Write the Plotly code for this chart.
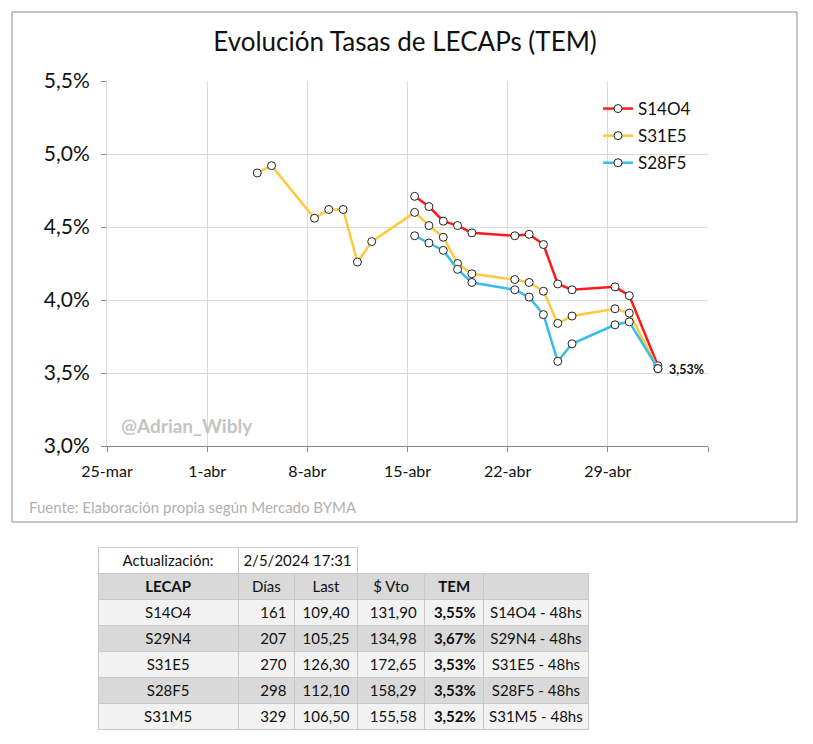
import plotly.graph_objects as go
import pandas as pd

# page body has an 8px margin: the figure is placed at (8, 8)
OFF = 8
W, H = 813 - OFF, 744 - OFF

# ---------------- data ----------------
dates_long = ["2024-04-04", "2024-04-05", "2024-04-08", "2024-04-09", "2024-04-10",
              "2024-04-11", "2024-04-12", "2024-04-15", "2024-04-16", "2024-04-17",
              "2024-04-18", "2024-04-19", "2024-04-22", "2024-04-23", "2024-04-24",
              "2024-04-25", "2024-04-26", "2024-04-29", "2024-04-30", "2024-05-02"]
dates_short = ["2024-04-15", "2024-04-16", "2024-04-17", "2024-04-18", "2024-04-19",
               "2024-04-22", "2024-04-23", "2024-04-24", "2024-04-25", "2024-04-26",
               "2024-04-29", "2024-04-30", "2024-05-02"]

s14o4 = [4.71, 4.64, 4.54, 4.51, 4.46, 4.44, 4.45, 4.38, 4.11, 4.07, 4.09, 4.03, 3.55]
s31e5 = [4.87, 4.92, 4.56, 4.62, 4.62, 4.26, 4.40, 4.60, 4.51, 4.43, 4.25, 4.18,
         4.14, 4.12, 4.06, 3.84, 3.89, 3.94, 3.91, 3.53]
s28f5 = [4.44, 4.39, 4.34, 4.21, 4.12, 4.07, 4.02, 3.90, 3.58, 3.70, 3.83, 3.85, 3.53]

x_tick_dates = ["2024-03-25", "2024-04-01", "2024-04-08", "2024-04-15",
                "2024-04-22", "2024-04-29", "2024-05-06"]
x_tick_labels = ["25-mar", "1-abr", "8-abr", "15-abr", "22-abr", "29-abr", ""]
y_ticks = [3.0, 3.5, 4.0, 4.5, 5.0, 5.5]
y_tick_labels = ["3,0%", "3,5%", "4,0%", "4,5%", "5,0%", "5,5%"]

# table data
upd_label = "Actualización:"
upd_value = "2/5/2024 17:31"
tbl_header = ["LECAP", "Días", "Last", "$ Vto", "TEM", ""]
tbl_lecap = ["S14O4", "S29N4", "S31E5", "S28F5", "S31M5"]
tbl_dias = [161, 207, 270, 298, 329]
tbl_last = [109.40, 105.25, 126.30, 112.10, 106.50]
tbl_vto = [131.90, 134.98, 172.65, 158.29, 155.58]
tbl_tem = [3.55, 3.67, 3.53, 3.53, 3.52]
tbl_note = [f"{c} - 48hs" for c in tbl_lecap]

FONT = "Lato"
NB = "\u00a0"


def px_x(p):
    return (p - OFF) / W


def px_y(p):
    return 1 - (p - OFF) / H


def dc(v):
    return f"{v:.2f}".replace(".", ",")


def nb(s):
    return s.replace(" ", NB)


half_day = pd.Timedelta(hours=12)
xl = pd.to_datetime(dates_long) + half_day
xs = pd.to_datetime(dates_short) + half_day

fig = go.Figure()

marker = dict(symbol="circle", size=8, color="white", line=dict(color="#222222", width=1))

fig.add_trace(go.Scatter(x=xs, y=s14o4, name="S14O4", mode="lines+markers",
                         line=dict(color="#ff1a1a", width=2.5), marker=marker,
                         legendgroup="a"))
fig.add_trace(go.Scatter(x=xl, y=s31e5, name="S31E5", mode="lines+markers",
                         line=dict(color="#ffc93c", width=2.5), marker=marker,
                         legendgroup="b"))
fig.add_trace(go.Scatter(x=xs, y=s28f5, name="S28F5", mode="lines+markers",
                         line=dict(color="#35bdec", width=2.5), marker=marker,
                         legendgroup="c"))

# end label
fig.add_annotation(x=xl[-1], y=s31e5[-1], xref="x", yref="y",
                   text="<b>" + dc(s31e5[-1]) + "%</b>",
                   showarrow=False, xanchor="left", xshift=9, yshift=-1,
                   font=dict(family=FONT, size=12.5, color="#111111"))

# -------- tables --------
TXT = "#111111"
row_fill = ["#f2f2f2", "#d9d9d9", "#f2f2f2", "#d9d9d9", "#f2f2f2"]
fig.add_trace(go.Table(
    domain=dict(x=[px_x(98), px_x(357)], y=[px_y(574), px_y(547)]),
    columnwidth=[140, 119],
    header=dict(values=[upd_label, nb(upd_value)], fill_color="white",
                line_color="#c8c8c8", align="center", height=26,
                font=dict(family=FONT, size=15, color=TXT)),
    cells=dict(values=[[""], [""]], height=1, fill_color="white", line_color="white"),
))
fig.add_trace(go.Table(
    domain=dict(x=[px_x(98), px_x(588)], y=[px_y(736), px_y(573)]),
    columnwidth=[140, 56, 63, 67, 59, 104],
    header=dict(values=[nb(h) for h in tbl_header],
                fill_color="#d9d9d9", line_color="#c8c8c8", align="center",
                height=26,
                font=dict(family=FONT, size=15, color=TXT,
                          weight=["bold", "normal", "normal", "normal", "bold", "normal"])),
    cells=dict(values=[tbl_lecap,
                       [str(d) for d in tbl_dias],
                       [dc(v) for v in tbl_last],
                       [dc(v) for v in tbl_vto],
                       [dc(v) + "%" for v in tbl_tem],
                       [nb(s) for s in tbl_note]],
               fill_color=[row_fill] * 6, line_color="#c8c8c8",
               align=["center", "right", "right", "right", "right", "center"],
               height=26,
               font=dict(family=FONT, size=15, color=TXT,
                         weight=["normal", "normal", "normal", "normal", "bold", "normal"])),
))

# chart border
fig.add_shape(type="rect", xref="paper", yref="paper",
              x0=px_x(12), x1=px_x(797), y0=px_y(522), y1=px_y(12),
              line=dict(color="#8c8c8c", width=1), fillcolor="rgba(0,0,0,0)", layer="below")

# watermark and footer
fig.add_annotation(xref="paper", yref="paper", x=px_x(119), y=px_y(425),
                   text="<b>@Adrian_Wibly</b>", showarrow=False, xanchor="left",
                   yanchor="middle", font=dict(family=FONT, size=19, color="#c4c4c4"))
fig.add_annotation(xref="paper", yref="paper", x=px_x(27), y=px_y(507),
                   text="Fuente: Elaboración propia según Mercado BYMA", showarrow=False,
                   xanchor="left", yanchor="middle",
                   font=dict(family=FONT, size=15, color="#b0b0b0"))

x_dom = [px_x(107), px_x(708)]
y_dom = [px_y(446), px_y(81)]

fig.update_layout(
    width=W, height=H,
    margin=dict(l=0, r=0, t=0, b=0, autoexpand=False),
    paper_bgcolor="white", plot_bgcolor="white",
    font=dict(family=FONT, color=TXT),
    title=dict(text="Evolución Tasas de LECAPs (TEM)", x=px_x(405), y=px_y(42),
               xanchor="center", yanchor="middle",
               font=dict(family=FONT, size=26, color=TXT)),
    xaxis=dict(domain=x_dom, type="date",
               range=[x_tick_dates[0], x_tick_dates[-1]],
               tickvals=x_tick_dates, ticktext=x_tick_labels,
               showgrid=True, gridcolor="#d9d9d9", gridwidth=1,
               showline=True, linecolor="#8c8c8c", linewidth=1,
               ticks="outside", ticklen=5, tickcolor="#8c8c8c",
               tickfont=dict(family=FONT, size=16, color=TXT),
               ticklabelstandoff=6, zeroline=False, automargin=False),
    yaxis=dict(domain=y_dom, range=[3.0, 5.5], tickvals=y_ticks, ticktext=y_tick_labels,
               showgrid=True, gridcolor="#d9d9d9", gridwidth=1,
               showline=True, linecolor="#d9d9d9", linewidth=1,
               ticks="outside", ticklen=5, tickcolor="#8c8c8c",
               tickfont=dict(family=FONT, size=21, color=TXT),
               ticklabelstandoff=7, zeroline=False, automargin=False),
    yaxis2=dict(overlaying="y", side="right", range=[3.0, 5.5], tickvals=y_ticks,
                ticktext=y_tick_labels, showgrid=False,
                showline=True, linecolor="#8c8c8c", linewidth=1,
                ticks="outside", ticklen=5, tickcolor="#8c8c8c",
                tickfont=dict(family=FONT, size=21, color=TXT),
                ticklabelstandoff=6, zeroline=False, anchor="x", automargin=False),
    legend=dict(x=px_x(598), y=px_y(91), xanchor="left", yanchor="top",
                bgcolor="rgba(255,255,255,0)", traceorder="grouped",
                tracegroupgap=2, itemwidth=30,
                font=dict(family=FONT, size=17, color=TXT)),
    showlegend=True,
)

fig.write_html("out.html")
